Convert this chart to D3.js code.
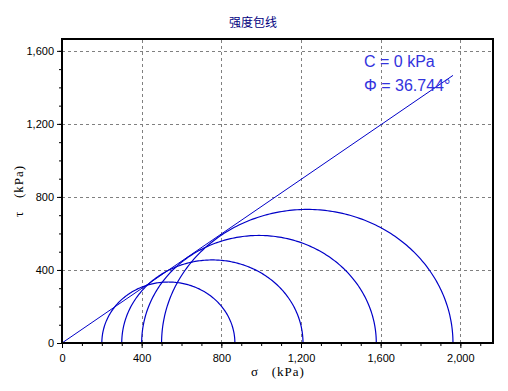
<!DOCTYPE html>
<html><head><meta charset="utf-8">
<script src="https://cdn.jsdelivr.net/npm/d3@7"></script>
<style>body{margin:0;background:#fff;}svg{display:block;}</style>
</head><body>
<script>
const title = "强度包线";
const sigma3 = [200, 300, 400, 500];
const sigma1 = [868, 1210, 1578, 1963];
const cohesion = 0;
const phiDeg = 36.744;
const xTicks = [0, 400, 800, 1200, 1600, 2000];
const yTicks = [0, 400, 800, 1200, 1600];
const xDomain = [0, 2164];
const yDomain = [0, 1665];

const W = 508, H = 391;
const m = {left: 62, right: 15, top: 39, bottom: 48};
const svg = d3.select("body").append("svg").attr("width", W).attr("height", H);
const x = d3.scaleLinear().domain(xDomain).range([m.left, W - m.right]);
const y = d3.scaleLinear().domain(yDomain).range([H - m.bottom, m.top]);

// grid
const g = svg.append("g");
g.selectAll(".gx").data(xTicks.filter(d => d > 0)).join("line")
  .attr("x1", d => Math.round(x(d)) + 0.5).attr("x2", d => Math.round(x(d)) + 0.5)
  .attr("y1", y.range()[0]).attr("y2", y.range()[1])
  .attr("stroke", "#808080").attr("stroke-dasharray", "3,3");
g.selectAll(".gy").data(yTicks.filter(d => d > 0)).join("line")
  .attr("y1", d => Math.round(y(d)) + 0.5).attr("y2", d => Math.round(y(d)) + 0.5)
  .attr("x1", x.range()[0]).attr("x2", x.range()[1])
  .attr("stroke", "#808080").attr("stroke-dasharray", "3,3");

// clip
svg.append("clipPath").attr("id", "clip").append("rect")
  .attr("x", m.left).attr("y", m.top).attr("width", W - m.left - m.right).attr("height", H - m.top - m.bottom);
const plot = svg.append("g").attr("clip-path", "url(#clip)");

// Mohr circles
const line = d3.line().x(d => x(d[0])).y(d => y(d[1]));
sigma3.forEach((s3, i) => {
  const s1 = sigma1[i];
  const c = (s1 + s3) / 2, r = (s1 - s3) / 2;
  const pts = d3.range(0, 181).map(a => {
    const t = Math.PI * a / 180;
    return [c - r * Math.cos(t), r * Math.sin(t)];
  });
  plot.append("path").attr("d", line(pts)).attr("fill", "none")
    .attr("stroke", "#0000c8").attr("stroke-width", 1.2);
});

// envelope
const sMax = d3.max(sigma1);
const tanPhi = Math.tan(phiDeg * Math.PI / 180);
plot.append("path").attr("d", line([[0, cohesion], [sMax, cohesion + tanPhi * sMax]]))
  .attr("fill", "none").attr("stroke", "#0000c8").attr("stroke-width", 1);

// axes
const xAxis = d3.axisBottom(x).tickValues(xTicks).tickSize(5).tickFormat(d3.format(","));
const xMinor = d3.axisBottom(x).tickValues(d3.range(0, xDomain[1], 100)).tickSize(3).tickFormat("");
const yAxis = d3.axisLeft(y).tickValues(yTicks).tickSize(5).tickFormat(d3.format(","));
const yMinor = d3.axisLeft(y).tickValues(d3.range(0, yDomain[1], 100)).tickSize(3).tickFormat("");
function style(sel) {
  sel.select(".domain").remove();
  sel.selectAll("text").attr("font-family", "Arial, 'Liberation Sans', sans-serif").attr("font-size", 11).attr("fill", "#000");
  sel.selectAll("line").attr("stroke", "#000");
}
svg.append("g").attr("transform", `translate(0,${y.range()[0]})`).call(xMinor).call(style);
svg.append("g").attr("transform", `translate(0,${y.range()[0]})`).call(xAxis).call(style).selectAll("text").attr("dy", "1em");
svg.append("g").attr("transform", `translate(0,0)`).attr("transform", `translate(${m.left},0)`).call(yMinor).call(style);
svg.append("g").attr("transform", `translate(${m.left},0)`).call(yAxis).call(style);

// frame
svg.append("rect").attr("x", m.left).attr("y", m.top)
  .attr("width", W - m.left - m.right).attr("height", H - m.top - m.bottom)
  .attr("fill", "none").attr("stroke", "#000").attr("stroke-width", 2);

// titles
svg.append("text").attr("x", 253).attr("y", 27).attr("text-anchor", "middle")
  .attr("font-family", "'Noto Sans CJK SC', sans-serif").attr("font-size", 12).attr("fill", "#000080").text(title);
svg.append("text").attr("x", 278).attr("y", 376).attr("text-anchor", "middle")
  .attr("font-family", "'Liberation Serif', 'DejaVu Serif', serif").attr("font-size", 13).attr("fill", "#000")
  .attr("letter-spacing", 1).attr("xml:space", "preserve").text("σ   (kPa)");
svg.append("text").attr("transform", "translate(23,191) rotate(-90)").attr("text-anchor", "middle")
  .attr("font-family", "'Liberation Serif', 'DejaVu Serif', serif").attr("font-size", 13).attr("fill", "#000")
  .attr("letter-spacing", 1).attr("xml:space", "preserve").text("τ   (kPa)");

// annotations
svg.append("text").attr("x", 364).attr("y", 67)
  .attr("font-family", "Arial, 'Liberation Sans', sans-serif").attr("font-size", 16).attr("fill", "#3333dd")
  .text(`C = ${cohesion} kPa`);
svg.append("text").attr("x", 364).attr("y", 91)
  .attr("font-family", "Arial, 'Liberation Sans', sans-serif").attr("font-size", 16).attr("fill", "#3333dd")
  .text(`Φ = ${phiDeg}°`);
</script>
</body></html>
